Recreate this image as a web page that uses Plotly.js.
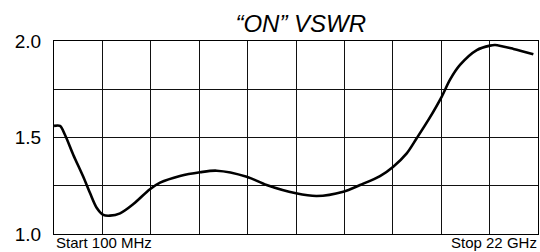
<!DOCTYPE html>
<html>
<head>
<meta charset="utf-8">
<script src="https://cdn.plot.ly/plotly-3.0.1.min.js"></script>
<style>html,body{margin:0;padding:0;background:#fff;}#chart{width:540px;height:252px;}</style>
</head>
<body>
<div id="chart"></div>
<script>
// Frequency (GHz) and VSWR
const freqGHz = [0.1, 0.37, 0.6, 0.97, 1.43, 1.73, 2.03, 2.33, 2.63, 3.09, 3.69, 4.44, 4.90, 5.80, 6.71, 7.46, 8.82, 9.72, 11.05, 11.99, 13.19, 13.95, 14.85, 15.45, 16.06, 16.51, 17.04, 17.64, 18.02, 18.47, 19.23, 19.83, 20.06, 20.89, 21.79];
const vswr = [1.56, 1.56, 1.513, 1.411, 1.295, 1.212, 1.136, 1.099, 1.095, 1.107, 1.155, 1.232, 1.266, 1.301, 1.320, 1.328, 1.297, 1.254, 1.211, 1.197, 1.219, 1.254, 1.300, 1.349, 1.418, 1.496, 1.591, 1.711, 1.800, 1.876, 1.953, 1.976, 1.979, 1.959, 1.931];
const yTickVals = [1.0, 1.25, 1.5, 1.75, 2.0];
const yTickText = ["1.0", "", "1.5", "", "2.0"];
const startLabel = "Start 100 MHz";
const stopLabel = "Stop 22 GHz";
const titleText = "\u201CON\u201D VSWR";
const fStart = 0.1, fStop = 22.0;

const font = "Liberation Sans, Arial, sans-serif";
const trace = {
  x: freqGHz, y: vswr, type: "scatter", mode: "lines",
  line: {color: "#000", width: 2.6, shape: "spline", smoothing: 0.85},
  hoverinfo: "skip"
};
const layout = {
  width: 540, height: 252,
  margin: {l: 54, r: 2, t: 41, b: 18, pad: 0},
  paper_bgcolor: "#fff", plot_bgcolor: "#fff",
  showlegend: false,
  title: {text: titleText, font: {family: font, size: 24, color: "#000", style: "italic"},
          x: 0.557, xanchor: "center", xref: "container", y: 0.905, yanchor: "middle", yref: "container"},
  xaxis: {range: [fStart, fStop], tick0: fStart, dtick: (fStop - fStart) / 10,
          showticklabels: false, ticks: "", showgrid: true, gridcolor: "#111", gridwidth: 1,
          showline: true, linecolor: "#000", linewidth: 1, mirror: true, zeroline: false, fixedrange: true},
  yaxis: {range: [1.0, 2.0], tickmode: "array", tickvals: yTickVals, ticktext: yTickText,
          tickfont: {family: font, size: 19, color: "#000"}, ticks: "", ticklabelstandoff: 8,
          showgrid: true, gridcolor: "#111", gridwidth: 1,
          showline: true, linecolor: "#000", linewidth: 1, mirror: true, zeroline: false, fixedrange: true},
  annotations: [
    {text: startLabel, xref: "paper", yref: "paper", x: 0, y: 0, xanchor: "left", yanchor: "top",
     showarrow: false, font: {family: font, size: 15, color: "#000"}, yshift: 2},
    {text: stopLabel, xref: "paper", yref: "paper", x: 1, y: 0, xanchor: "right", yanchor: "top",
     showarrow: false, font: {family: font, size: 15, color: "#000"}, yshift: 2, xshift: 1}
  ]
};
Plotly.newPlot("chart", [trace], layout, {staticPlot: true, displayModeBar: false});
</script>
</body>
</html>
